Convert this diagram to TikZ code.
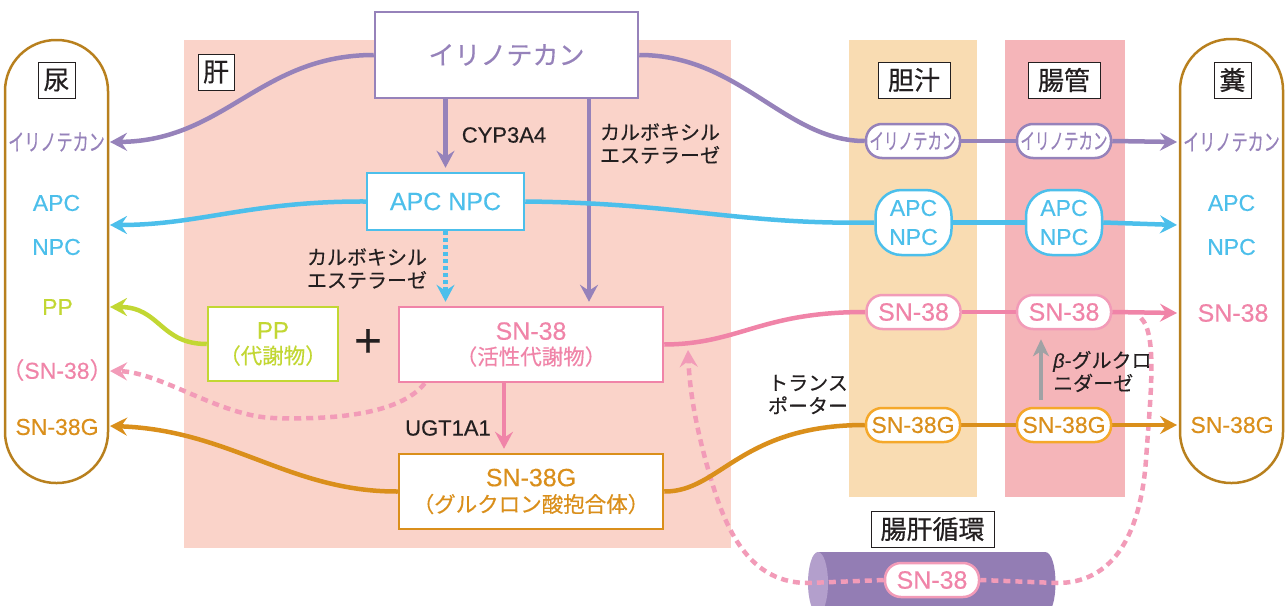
\documentclass[tikz,border=0pt]{standalone}
\usepackage{fontspec}
\usepackage{graphicx}
\setmainfont{Noto Sans CJK JP}[FakeBold=0.35]
\newfontfamily\lat{Liberation Sans}[FakeBold=0.3]
\newfontfamily\lab{Noto Sans CJK JP}[FakeBold=0.6]
\usetikzlibrary{arrows.meta}
\pgfdeclarelayer{bg}
\pgfdeclarelayer{lines}
\pgfsetlayers{bg,lines,main}
\definecolor{cPur}{HTML}{9682BA}
\definecolor{cBlue}{HTML}{4CBFEB}
\definecolor{cGreen}{HTML}{C2D733}
\definecolor{cPink}{HTML}{F084A8}
\definecolor{cPinkL}{HTML}{F29BB8}
\definecolor{cOra}{HTML}{DA8F1B}
\definecolor{cOraL}{HTML}{F5A82A}
\definecolor{cCap}{HTML}{B8801E}
\definecolor{cLiver}{HTML}{FAD3C9}
\definecolor{cBile}{HTML}{F9DCB2}
\definecolor{cGut}{HTML}{F5B5B9}
\definecolor{cCyl}{HTML}{937DB4}
\definecolor{cCylE}{HTML}{B39FCC}
\definecolor{cInk}{HTML}{231F20}
\definecolor{cGrey}{HTML}{A0A2A5}
\newcommand\fsz[1]{\fontsize{#1pt}{#1pt}\selectfont}
\newcommand\sq[2]{\scalebox{#1}[1]{#2}}
\tikzset{
  flow/.style={line width=4.5pt},
  tip/.style={-{Stealth[length=17pt,width=18pt,inset=6pt]}},
  box/.style={draw, line width=2.5pt, fill=white, inner sep=0pt, align=center},
  pill/.style={draw, line width=2.5pt, fill=white, rounded corners=16pt, minimum width=94pt, minimum height=34pt, inner sep=0pt},
  lab/.style={draw=cInk, line width=0.9pt, fill=white, inner sep=0pt, minimum height=36pt, text=cInk, font=\lab\fsz{26}},
  txt/.style={inner sep=0pt, align=center},
  note/.style={text=cInk, inner sep=0pt, align=center, font=\fontsize{20pt}{23pt}\selectfont},
  dashpink/.style={line width=4.5pt, draw=cPinkL, dash pattern=on 7pt off 5pt},
}
\begin{document}
\begin{tikzpicture}[x=1pt,y=-1pt]
\useasboundingbox (0,0) rectangle (1287,605);
\clip (0,0) rectangle (1287,605);
% ---------- backgrounds ----------
\begin{pgfonlayer}{bg}
\fill[cLiver] (184,40) rectangle (731,548);
\fill[cBile] (849,40) rectangle (977,497);
\fill[cGut] (1005,40) rectangle (1125,497);
\draw[cCap, line width=2.5pt, fill=white, rounded corners=51pt] (5,40) rectangle (108,483);
\draw[cCap, line width=2.5pt, fill=white, rounded corners=51pt] (1180,39) rectangle (1283,483);
\fill[cCyl] (818,552) -- (1045,552) .. controls (1059,552) and (1059,614) .. (1045,614) -- (818,614) -- cycle;
\fill[cCylE] (818,583) ellipse [x radius=10pt, y radius=31pt];
\end{pgfonlayer}
% ---------- section labels ----------
\node[lab, minimum width=37pt] (nyo) at (56.5,80) {尿};
\node[lab, minimum width=36pt] (kan) at (216,72) {肝};
\node[lab, minimum width=72pt] (tan) at (914,80) {胆汁};
\node[lab, minimum width=72pt] (cho) at (1064,80) {腸管};
\node[lab, minimum width=37pt] (fun) at (1232.5,80) {糞};
\node[lab, minimum width=123pt] (jun) at (932.5,529) {腸肝循環};
% ---------- liver boxes ----------
\node[box, draw=cPur, minimum width=263pt, minimum height=86pt, text=cPur, font=\fsz{26}] (iri) at (506.5,55) {イリノテカン};
\node[box, draw=cBlue, minimum width=157pt, minimum height=57pt, text=cBlue, font=\lat\fsz{25}] (apc) at (445.5,201.5) {APC NPC};
\node[box, draw=cGreen, minimum width=130pt, minimum height=74pt, text=cGreen, font=\fontsize{21.5pt}{25pt}\selectfont] (pp) at (273,344) {{\lat\fontsize{24pt}{25pt}\selectfont PP}\\（代謝物）};
\node[txt, text=cInk, font=\lat\fsz{48}] (plus) at (368,343) {+};
\node[box, draw=cPink, minimum width=264pt, minimum height=75pt, text=cPink, font=\fontsize{21.5pt}{25pt}\selectfont] (sn) at (531,344.5) {{\lat\fontsize{25pt}{25pt}\selectfont SN-38}\\（活性代謝物）};
\node[box, draw=cOra, minimum width=264pt, minimum height=75pt, text=cOra, font=\fontsize{21.5pt}{26pt}\selectfont] (sng) at (531,491.5) {{\lat\fontsize{25pt}{26pt}\selectfont SN-38G}\\（グルクロン酸抱合体）};
% ---------- enzyme notes ----------
\node[note, font=\lat\fsz{22}] (cyp) at (504,135) {CYP3A4};
\node[note] (ces1) at (660,143.5) {カルボキシル\\エステラーゼ};
\node[note] (ces2) at (367,268.5) {カルボキシル\\エステラーゼ};
\node[note, font=\lat\fsz{22}] (ugt) at (448,428) {UGT1A1};
\node[note] (trans) at (808,394.5) {トランス\\ポーター};
\node[note, anchor=west, align=left] (bglu) at (1053,371.5) {{\lat\itshape β}-グルクロ\\ニダーゼ};
% ---------- urine column ----------
\node[txt, text=cPur, font=\fsz{23}] (Liri) at (56.5,142) {\sq{0.7}{イリノテカン}};
\node[txt, text=cBlue, font=\lat\fsz{23}] (Lapc) at (56.5,203) {APC};
\node[txt, text=cBlue, font=\lat\fsz{23}] (Lnpc) at (56.5,247) {NPC};
\node[txt, text=cGreen, font=\lat\fsz{23}] (Lpp) at (57.5,307) {PP};
\node[txt, text=cPink, font=\fsz{23}] (Lsn) at (57,370) {（{\lat SN-38}）};
\node[txt, text=cOra, font=\lat\fsz{23}] (Lsng) at (57,427) {SN-38G};
% ---------- feces column ----------
\node[txt, text=cPur, font=\fsz{23}] (Riri) at (1231.5,142) {\sq{0.7}{イリノテカン}};
\node[txt, text=cBlue, font=\lat\fsz{23}] (Rapc) at (1231.5,203) {APC};
\node[txt, text=cBlue, font=\lat\fsz{23}] (Rnpc) at (1231.5,247) {NPC};
\node[txt, text=cPink, font=\lat\fsz{25}] (Rsn) at (1233,313) {SN-38};
\node[txt, text=cOra, font=\lat\fsz{23}] (Rsng) at (1232,425) {SN-38G};
% ---------- pills ----------
\node[pill, draw=cPur, text=cPur, font=\fsz{22}] (b1) at (913,141) {\sq{0.66}{イリノテカン}};
\node[pill, draw=cPur, text=cPur, font=\fsz{22}] (g1) at (1064,141) {\sq{0.66}{イリノテカン}};
\node[pill, draw=cBlue, text=cBlue, rounded corners=26pt, minimum width=76pt, minimum height=65pt, align=center, font=\lat\fontsize{23pt}{29pt}\selectfont] (b2) at (913.5,222.5) {APC\\NPC};
\node[pill, draw=cBlue, text=cBlue, rounded corners=26pt, minimum width=76pt, minimum height=65pt, align=center, font=\lat\fontsize{23pt}{29pt}\selectfont] (g2) at (1064,222.5) {APC\\NPC};
\node[pill, draw=cPinkL, text=cPink, font=\lat\fsz{25}] (b3) at (913.5,312) {SN-38};
\node[pill, draw=cPinkL, text=cPink, font=\lat\fsz{25}] (g3) at (1064,312) {SN-38};
\node[pill, draw=cOraL, text=cOra, font=\lat\fsz{23}] (b4) at (913,425) {SN-38G};
\node[pill, draw=cOraL, text=cOra, font=\lat\fsz{23}] (g4) at (1064,425) {SN-38G};
\node[pill, draw=cPinkL, text=cPink, font=\lat\fsz{25}] (cyl) at (932,580) {SN-38};
% ---------- free ends ----------
\coordinate (aL1) at (110,142);
\coordinate (aL2) at (110,225);
\coordinate (aL3) at (110,307);
\coordinate (aL4) at (110,371);
\coordinate (aL5) at (110,426);
\coordinate (aR1) at (1177,142);
\coordinate (aR2) at (1177,225);
\coordinate (aR3) at (1177,313);
\coordinate (aR4) at (1177,425);
\coordinate (loopS) at (1141,318);
\coordinate (loopT) at (688,350);
% ---------- connectors ----------
\begin{pgfonlayer}{lines}
% enterohepatic loop
\draw[dashpink] (loopS) .. controls (1158,335) and (1150,400) .. (1146,460)
   .. controls (1140,540) and (1110,583) .. (1057,583) -- (cyl.east);
\draw[dashpink, tip] (cyl.west) -- (808,583) .. controls (765,583) and (735,555) .. (715,492)
   .. controls (700,445) and (690,400) .. (loopT);
% SN-38 back to urine
\draw[dashpink, tip] ([xshift=27pt]sn.south west) .. controls (400,415) and (330,420) .. (273,418)
   .. controls (220,416) and (160,372) .. (aL4);
% irinotecan
\draw[flow, cPur, tip] (iri.west) .. controls (260,55) and (225,141) .. (aL1);
\draw[flow, cPur] (iri.east) .. controls (740,55) and (785,141) .. (b1.west);
\draw[flow, cPur] (b1) -- (g1);
\draw[flow, cPur, tip] (g1.east) -- (aR1);
\draw[flow, cPur, tip, shorten >=4pt] (apc.north |- iri.south) -- (apc.north);
\draw[flow, cPur, tip, shorten >=4pt] ([xshift=82.5pt]iri.south) -- ([xshift=58pt]sn.north);
% APC NPC
\draw[flow, cBlue, tip] (apc.west) .. controls (250,201) and (200,225) .. (aL2);
\draw[flow, cBlue] (apc.east) .. controls (680,203) and (740,225) .. (b2.west);
\draw[flow, cBlue] (b2) -- (g2);
\draw[flow, cBlue, tip] (g2.east) -- (aR2);
\draw[line width=4.5pt, cBlue, dash pattern=on 4pt off 3pt, -{Stealth[length=17pt,width=18pt,inset=6pt]}, shorten >=4pt] (apc.south) -- (sn.north -| apc.south);
% PP
\draw[flow, cGreen, tip] (pp.west) .. controls (160,344) and (160,307) .. (aL3);
% SN-38
\draw[flow, cPink] (sn.east) .. controls (740,344) and (760,312) .. (b3.west);
\draw[flow, cPink] (b3) -- (g3);
\draw[flow, cPink, tip] (g3.east) -- (aR3);
\draw[flow, cPink, tip, shorten >=4pt] ([xshift=-27pt]sn.south) -- ([xshift=-27pt]sng.north);
% SN-38G
\draw[flow, cOra, tip] (sng.west) .. controls (290,492) and (230,430) .. (aL5);
\draw[flow, cOra] (sng.east) .. controls (720,492) and (740,425) .. (b4.west);
\draw[flow, cOra] (b4) -- (g4);
\draw[flow, cOra, tip] (g4.east) -- (aR4);
% beta-glucuronidase
\draw[line width=4.5pt, cGrey, -{Stealth[length=17pt,width=16pt,inset=5pt]}, shorten <=7pt, shorten >=9pt] ([xshift=-23pt]g4.north) -- ([xshift=-23pt]g3.south);
\end{pgfonlayer}
\end{tikzpicture}
\end{document}
